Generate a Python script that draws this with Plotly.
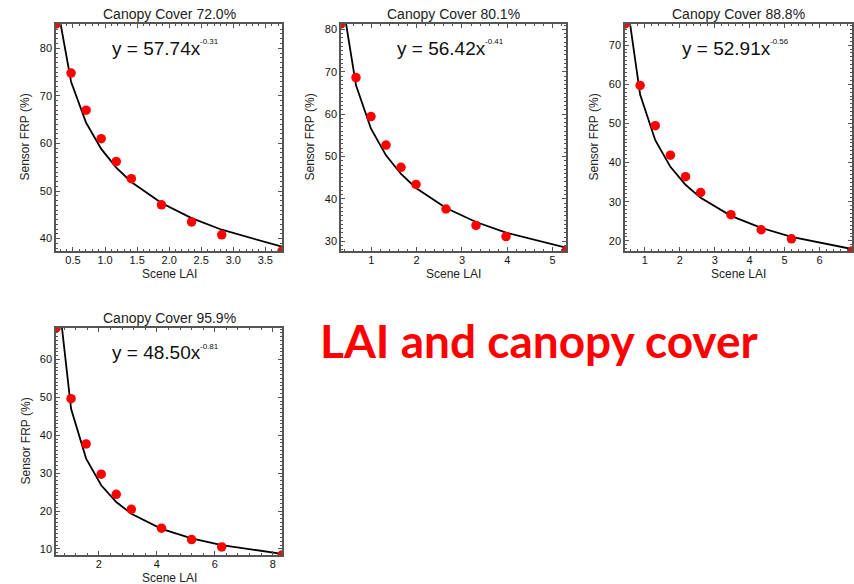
import plotly.graph_objects as go

# ---- data ----
covers = ["72.0%", "80.1%", "88.8%", "95.9%"]
coef = ["57.74", "56.42", "52.91", "48.50"]
expo = ["-0.31", "-0.41", "-0.56", "-0.81"]

lai_1 = [0.235, 0.47, 0.705, 0.94, 1.175, 1.41, 1.88, 2.35, 2.82, 3.76]
frp_1 = [85.1, 74.8, 67.0, 61.0, 56.2, 52.6, 47.1, 43.5, 40.8, 37.4]
fit_1 = [90.46, 72.97, 64.35, 58.86, 54.92, 51.91, 47.48, 44.30, 41.87, 38.30]

lai_2 = [0.331, 0.662, 0.993, 1.324, 1.655, 1.986, 2.648, 3.31, 3.972, 5.296]
frp_2 = [81.3, 68.65, 59.44, 52.7, 47.46, 43.41, 37.62, 33.73, 31.11, 27.7]
fit_2 = [88.78, 66.81, 56.58, 50.29, 45.89, 42.59, 37.85, 34.54, 32.05, 28.49]

lai_3 = [0.433, 0.866, 1.299, 1.732, 2.165, 2.598, 3.464, 4.33, 5.196, 6.928]
frp_3 = [75.4, 59.71, 49.42, 41.87, 36.38, 32.35, 26.69, 22.83, 20.51, 17.4]
fit_3 = [84.55, 57.35, 45.70, 38.90, 34.33, 30.99, 26.39, 23.29, 21.03, 17.90]

lai_4 = [0.52, 1.04, 1.56, 2.08, 2.60, 3.12, 4.16, 5.20, 6.24, 8.32]
frp_4 = [68.3, 49.65, 37.7, 29.73, 24.42, 20.44, 15.49, 12.48, 10.53, 8.4]
fit_4 = [82.37, 46.98, 33.83, 26.80, 22.37, 19.30, 15.29, 12.76, 11.01, 8.72]

x_dticks = [0.5, 1, 1, 2]
x_minor = [0.1, 0.2, 0.2, 0.4]
x_formats = [".1f", "d", "d", "d"]

series = [(lai_1, frp_1, fit_1), (lai_2, frp_2, fit_2), (lai_3, frp_3, fit_3), (lai_4, frp_4, fit_4)]

# ---- layout (pixel boxes of each plot area) ----
W, H = 854, 584
boxes = [(56, 282, 24, 251), (341, 566, 24, 251), (625, 852, 24, 251), (56, 282, 328, 555)]

fig = go.Figure()
font_family = "Liberation Sans, Arial, sans-serif"
annotations = []

for i, ((lai, frp, fit), (x0, x1, y0, y1)) in enumerate(zip(series, boxes)):
    n = "" if i == 0 else str(i + 1)
    xa, ya = "x" + n, "y" + n
    fig.add_trace(go.Scatter(x=lai, y=fit, mode="lines", line=dict(color="black", width=1.8),
                             xaxis=xa, yaxis=ya, showlegend=False, hoverinfo="skip"))
    fig.add_trace(go.Scatter(x=lai, y=frp, mode="markers", marker=dict(color="#ff0000", size=9.5),
                             xaxis=xa, yaxis=ya, showlegend=False, cliponaxis=True))
    axis_common = dict(showline=True, mirror="allticks", linecolor="#555", linewidth=1.5,
                       ticks="inside", ticklen=4, tickcolor="#555", tickwidth=1,
                       showgrid=False, zeroline=False, fixedrange=True,
                       tickfont=dict(family=font_family, size=11, color="#111"))
    xaxis = dict(axis_common, domain=[x0 / W, x1 / W], range=[lai[0], lai[-1]],
                 anchor=ya, dtick=x_dticks[i], tick0=0, tickformat=x_formats[i],
                 ticklabelstandoff=-2,
                 minor=dict(ticks="inside", ticklen=2, tickcolor="#555", dtick=x_minor[i], showgrid=False))
    yaxis = dict(axis_common, domain=[1 - y1 / H, 1 - y0 / H], range=[frp[-1], frp[0]],
                 anchor=xa, dtick=10, tick0=0,
                 minor=dict(ticks="inside", ticklen=2, tickcolor="#555", dtick=1, showgrid=False))
    fig.update_layout(**{"xaxis" + n: xaxis, "yaxis" + n: yaxis})

    cx = (x0 + x1) / 2
    # title
    annotations.append(dict(text="Canopy Cover " + covers[i], x=cx / W, y=1 - (y0 - 10) / H,
                            xref="paper", yref="paper", showarrow=False, xanchor="center", yanchor="middle",
                            font=dict(family=font_family, size=14, color="#222")))
    # equation base and exponent
    annotations.append(dict(text="y = " + coef[i] + "x", x=(cx + 34) / W, y=1 - (y0 + 24) / H,
                            xref="paper", yref="paper", showarrow=False,
                            xanchor="right", yanchor="middle",
                            font=dict(family=font_family, size=19, color="#111")))
    annotations.append(dict(text=expo[i], x=(cx + 34) / W, y=1 - (y0 + 18) / H,
                            xref="paper", yref="paper", showarrow=False,
                            xanchor="left", yanchor="middle", xshift=-5,
                            font=dict(family=font_family, size=8, color="#111")))
    # x title
    annotations.append(dict(text="Scene LAI", x=cx / W, y=1 - (y1 + 23) / H, xref="paper", yref="paper",
                            showarrow=False, xanchor="center", yanchor="middle", borderpad=0,
                            font=dict(family=font_family, size=12, color="#222")))
    # y title
    annotations.append(dict(text="Sensor FRP (%)", x=(x0 - 31) / W, y=1 - (y0 + y1) / 2 / H,
                            xref="paper", yref="paper", showarrow=False, textangle=-90,
                            xanchor="center", yanchor="middle",
                            font=dict(family=font_family, size=12, color="#222")))

annotations.append(dict(text="<b>LAI and canopy cover</b>", x=539 / W, y=1 - 340 / H, xref="paper", yref="paper",
                        showarrow=False, xanchor="center", yanchor="middle",
                        font=dict(family="Lato, Noto Sans, sans-serif", size=46, color="#ff0000")))

fig.update_layout(width=W, height=H, margin=dict(l=0, r=0, t=0, b=0),
                  paper_bgcolor="white", plot_bgcolor="white", annotations=annotations)

fig.write_html("out.html")
